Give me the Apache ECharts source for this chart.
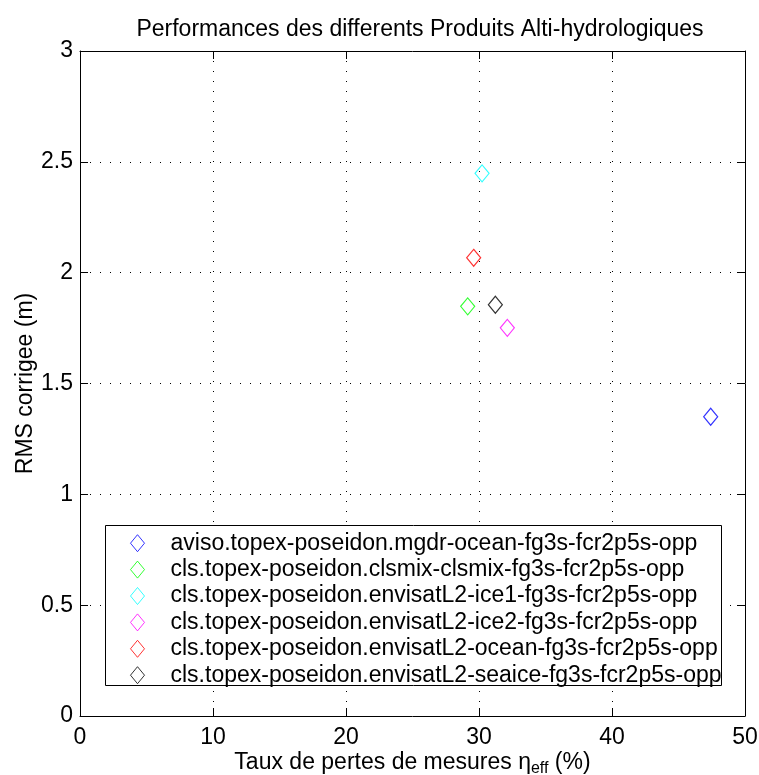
<!DOCTYPE html>
<html><head><meta charset="utf-8">
<script src="https://cdn.jsdelivr.net/npm/echarts@6/dist/echarts.min.js"></script>
<style>html,body{margin:0;padding:0;background:#fff;overflow:hidden}#c{width:759px;height:775px}</style>
</head><body><div id="c"></div>
<script>
const seriesNames = [
  'aviso.topex-poseidon.mgdr-ocean-fg3s-fcr2p5s-opp',
  'cls.topex-poseidon.clsmix-clsmix-fg3s-fcr2p5s-opp',
  'cls.topex-poseidon.envisatL2-ice1-fg3s-fcr2p5s-opp',
  'cls.topex-poseidon.envisatL2-ice2-fg3s-fcr2p5s-opp',
  'cls.topex-poseidon.envisatL2-ocean-fg3s-fcr2p5s-opp',
  'cls.topex-poseidon.envisatL2-seaice-fg3s-fcr2p5s-opp'
];
const lossRate = [47.42, 29.15, 30.23, 32.13, 29.6, 31.23];
const rmsCorrected = [1.350, 1.848, 2.448, 1.751, 2.067, 1.855];
const seriesColors = ['#0000ff', '#00ff00', '#00ffff', '#ff00ff', '#ff0000', '#000000'];
const xTicks = [0, 10, 20, 30, 40, 50];
const yTicks = [0, 0.5, 1, 1.5, 2, 2.5, 3];

const FONT = 'Liberation Sans, Arial, Helvetica, sans-serif';
const FS = 23;
const chart = echarts.init(document.getElementById('c'), null, {renderer: 'canvas', width: 759, height: 775});

const gridLine = {show: true, lineStyle: {color: '#000', width: 1, type: [1, 9]}};
const axisBase = {
  axisLine: {show: true, onZero: false, lineStyle: {color: '#000', width: 1}},
  axisTick: {show: true, inside: true, length: 8, lineStyle: {color: '#000'}}
};

const option = {
  backgroundColor: '#fff',
  animation: false,
  textStyle: {fontFamily: FONT},
  title: {
    text: 'Performances des differents Produits Alti-hydrologiques',
    left: 415, top: 13, textAlign: 'center',
    textStyle: {fontFamily: FONT, fontSize: FS, fontWeight: 'normal', color: '#000'}
  },
  grid: {left: 80, top: 51, width: 665, height: 665, containLabel: false, outerBoundsMode: 'none'},
  xAxis: [
    Object.assign({}, axisBase, {
      type: 'value', min: xTicks[0], max: xTicks[xTicks.length - 1], interval: 10, position: 'bottom',
      splitLine: gridLine,
      axisLabel: {color: '#000', fontFamily: FONT, fontSize: FS, margin: 10},
      name: 'Taux de pertes de mesures {sym|η}{sub|eff} (%)',
      nameLocation: 'middle', nameGap: 33, nameMoveOverlap: false,
      nameTextStyle: {color: '#000', fontFamily: FONT, fontSize: FS,
        rich: {
          sym: {fontFamily: FONT, fontSize: FS, color: '#000'},
          sub: {fontFamily: FONT, fontSize: 16, color: '#000', padding: [12, 0, 0, 0]}
        }}
    }),
    Object.assign({}, axisBase, {
      type: 'value', min: xTicks[0], max: xTicks[xTicks.length - 1], interval: 10, position: 'top',
      splitLine: {show: false}, axisLabel: {show: false}
    })
  ],
  yAxis: [
    Object.assign({}, axisBase, {
      type: 'value', min: yTicks[0], max: yTicks[yTicks.length - 1], interval: 0.5, position: 'left',
      splitLine: gridLine,
      axisLabel: {color: '#000', fontFamily: FONT, fontSize: FS, margin: 7},
      name: 'RMS corrigee (m)', nameLocation: 'middle', nameGap: 43, nameRotate: 90, nameMoveOverlap: false,
      nameTextStyle: {color: '#000', fontFamily: FONT, fontSize: FS}
    }),
    Object.assign({}, axisBase, {
      type: 'value', min: yTicks[0], max: yTicks[yTicks.length - 1], interval: 0.5, position: 'right',
      splitLine: {show: false}, axisLabel: {show: false}
    })
  ],
  graphic: [{
    type: 'rect', z: 3, left: 105, top: 525,
    shape: {width: 616, height: 160},
    style: {fill: '#fff', stroke: '#000', lineWidth: 1}
  }],
  legend: {
    z: 10, orient: 'vertical', left: 130, top: 530, padding: 0,
    itemWidth: 14, itemHeight: 17, itemGap: 0,
    icon: 'diamond',
    itemStyle: {color: 'transparent', borderWidth: 1},
    textStyle: {fontFamily: FONT, fontSize: FS, color: '#000', lineHeight: 26.4, padding: [0, 0, 0, 21]},
    data: seriesNames
  },
  series: seriesNames.map((n, i) => ({
    type: 'scatter', name: n, xAxisIndex: 0, yAxisIndex: 0,
    symbol: 'diamond', symbolSize: [14, 17],
    itemStyle: {color: 'transparent', borderColor: seriesColors[i], borderWidth: 1.2},
    data: [[lossRate[i], rmsCorrected[i]]]
  }))
};
chart.setOption(option);
</script></body></html>
